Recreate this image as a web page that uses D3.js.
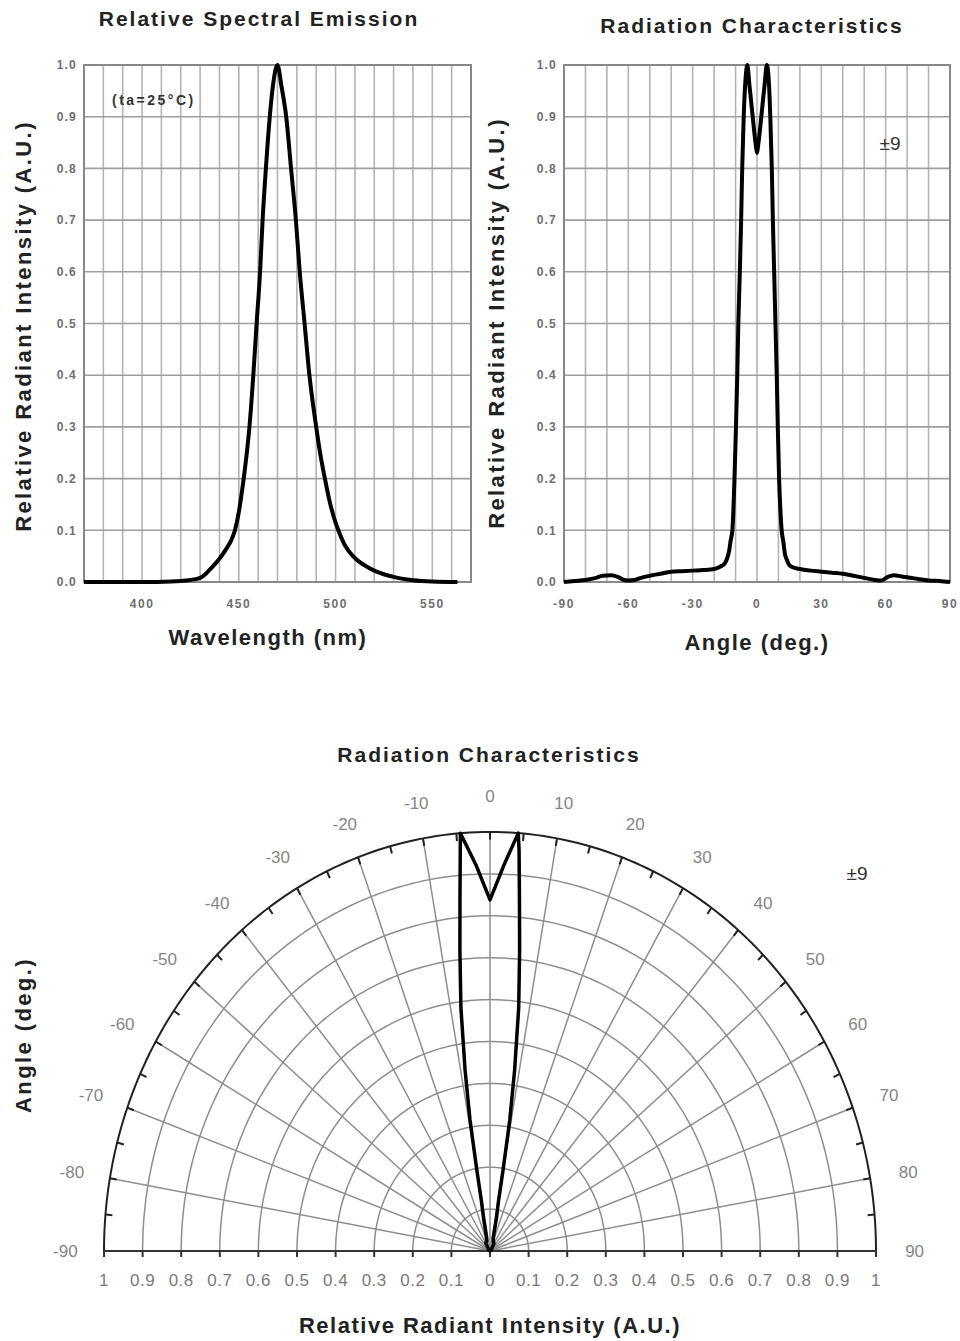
<!DOCTYPE html>
<html><head><meta charset="utf-8">
<script src="https://cdn.jsdelivr.net/npm/d3@7"></script>
<style>
body{margin:0;background:#fff}
svg{display:block}
text{font-family:"Liberation Sans",Arial,Helvetica,sans-serif}
</style></head>
<body><svg id="c" width="960" height="1341"></svg>
<script>
// ---- Data ----
const spectrumWavelength = [370,380,400,415,420,425,430,433,435,438,441,444,446,448,450,452,454,455.5,457.5,459.2,461,462.3,464,466,468,470,472,474.5,477,479.5,481.5,484,486.5,490,492,494.5,497,500,502,505,509,512,516,520,525,530,535,540,550,563];
const spectrumIntensity  = [0,0,0,0.001,0.002,0.004,0.008,0.016,0.024,0.036,0.05,0.067,0.08,0.1,0.135,0.185,0.245,0.3,0.4,0.5,0.6,0.7,0.8,0.9,0.97,1.0,0.96,0.9,0.8,0.7,0.6,0.5,0.4,0.3,0.25,0.2,0.155,0.115,0.095,0.07,0.05,0.04,0.03,0.022,0.015,0.01,0.006,0.0035,0.001,0];

// Radiation characteristics (cartesian plot)
const angleDeg = [-90,-85,-80,-75,-72,-68,-65,-62,-60,-57,-54,-50,-45,-40,-35,-30,-25,-20,-17,-15,-14,-13,-12.3,-11.5,-11,-10.5,-9.8,-9.2,-8.7,-8,-7.4,-6.9,-6.2,-5.4,-4.5,-3.5,-2,-1,-0.4,0,0.4,1,2,3.5,4.6,5.5,6.2,6.9,7.4,8,8.6,9.2,9.7,10.3,10.9,11.5,12.2,13,14,15,17,20,25,30,35,40,45,50,55,58,61,64,67,70,75,80,85,90];
const radiantIntensity = [0,0.002,0.004,0.008,0.012,0.013,0.01,0.004,0.003,0.004,0.008,0.012,0.016,0.02,0.021,0.022,0.023,0.025,0.03,0.036,0.045,0.06,0.08,0.1,0.14,0.2,0.3,0.4,0.5,0.6,0.7,0.8,0.9,0.97,1.0,0.96,0.9,0.86,0.84,0.83,0.84,0.86,0.9,0.96,1.0,0.97,0.9,0.8,0.7,0.6,0.5,0.4,0.3,0.2,0.14,0.1,0.08,0.055,0.042,0.033,0.028,0.025,0.022,0.02,0.018,0.016,0.012,0.008,0.004,0.003,0.01,0.013,0.011,0.009,0.006,0.003,0.002,0];

// Radiation characteristics (polar plot, as drawn in the lower figure)
const polarAngleDeg  = [-90,-60,-30,-20,-15,-12,-10.6,-10,-9.4,-8.5,-7.4,-6.2,-5.3,-4.6,-4.4,-2.2,0,2.2,4.2,4.5,5.2,6.1,7.3,8.4,9.3,9.9,10.5,12,15,20,30,60,90];
const polarIntensity = [0,0.003,0.022,0.025,0.036,0.08,0.12,0.2,0.317,0.437,0.585,0.722,0.842,0.96,1.0,0.92,0.838,0.92,1.0,0.96,0.842,0.722,0.585,0.437,0.317,0.2,0.12,0.08,0.033,0.025,0.02,0.003,0];

const intensityTicks = [0,0.1,0.2,0.3,0.4,0.5,0.6,0.7,0.8,0.9,1.0];
const wavelengthTicks = [400,450,500,550];
const angleTicks = [-90,-60,-30,0,30,60,90];
const polarAngleLabels = [-90,-80,-70,-60,-50,-40,-30,-20,-10,0,10,20,30,40,50,60,70,80,90];
const polarRadialTicks = [0,0.1,0.2,0.3,0.4,0.5,0.6,0.7,0.8,0.9,1];

const svg = d3.select("#c");

function cartesian(o){
  const x = d3.scaleLinear().domain(o.xDomain).range([o.x0, o.x1]);
  const y = d3.scaleLinear().domain([0,1]).range([582, 65]);
  const g = svg.append("g");
  g.selectAll(null).data(o.xGrid).join("line")
    .attr("x1", d=>x(d)).attr("x2", d=>x(d)).attr("y1", y(0)).attr("y2", y(1))
    .attr("stroke", "#b4b4b4").attr("stroke-width", 1.6);
  g.selectAll(null).data(intensityTicks).join("line")
    .attr("x1", o.x0).attr("x2", o.x1).attr("y1", d=>y(d)).attr("y2", d=>y(d))
    .attr("stroke", "#9e9e9e").attr("stroke-width", 1.6);
  g.append("rect").attr("x", o.x0).attr("y", y(1)).attr("width", o.x1-o.x0).attr("height", y(0)-y(1))
    .attr("fill", "none").attr("stroke", "#888").attr("stroke-width", 2);
  g.selectAll(null).data(intensityTicks).join("text")
    .attr("x", o.x0 - 7).attr("y", d=>y(d)).attr("dy", "0.35em")
    .attr("text-anchor", "end").attr("font-size", 12).attr("font-weight", "bold")
    .attr("letter-spacing", 1.2).attr("fill", "#6e6e6e").text(d3.format(".1f"));
  g.selectAll(null).data(o.xTicks).join("text")
    .attr("x", d=>x(d)).attr("y", 608)
    .attr("text-anchor", "middle").attr("font-size", 12).attr("font-weight", "bold")
    .attr("letter-spacing", 1.5).attr("fill", "#6e6e6e").text(d=>d);
  const line = d3.line().x((d,i)=>x(o.xs[i])).y((d,i)=>y(o.ys[i])).curve(d3.curveMonotoneX);
  g.append("path").datum(o.xs).attr("d", line).attr("fill", "none")
    .attr("stroke", "#000").attr("stroke-width", 4).attr("stroke-linejoin", "round");
  g.append("text").attr("x", o.titleX).attr("y", o.titleY).attr("text-anchor", "middle")
    .attr("font-size", 21).attr("font-weight", "bold").attr("letter-spacing", 2).attr("fill", "#222").text(o.title);
  g.append("text").attr("x", o.xTitleX).attr("y", o.xTitleY).attr("text-anchor", "middle")
    .attr("font-size", 22).attr("font-weight", "bold").attr("letter-spacing", 1.5).attr("fill", "#222").text(o.xTitle);
  g.append("text").attr("transform", `translate(${o.yTitleX},${o.yTitleY}) rotate(-90)`)
    .attr("text-anchor", "middle").attr("dy", "0.35em")
    .attr("font-size", 22).attr("font-weight", "bold").attr("letter-spacing", 2.4).attr("fill", "#222")
    .text("Relative Radiant Intensity (A.U.)");
  return {g, x, y};
}

const c1 = cartesian({
  xDomain:[370,570], x0:84, x1:471, xGrid:d3.range(380,570,10), xTicks:wavelengthTicks,
  xs:spectrumWavelength, ys:spectrumIntensity,
  title:"Relative Spectral Emission", titleX:259, titleY:26,
  xTitle:"Wavelength (nm)", xTitleX:268, xTitleY:645, yTitleX:23, yTitleY:326
});
c1.g.append("text").attr("x", 112).attr("y", 105).attr("font-size", 14).attr("font-weight", "bold")
  .attr("letter-spacing", 2.5).attr("fill", "#333").text("(ta=25°C)");

const c2 = cartesian({
  xDomain:[-90,90], x0:564, x1:950, xGrid:d3.range(-80,90,10), xTicks:angleTicks,
  xs:angleDeg, ys:radiantIntensity,
  title:"Radiation Characteristics", titleX:752, titleY:33,
  xTitle:"Angle (deg.)", xTitleX:757, xTitleY:650, yTitleX:496, yTitleY:323
});
c2.g.append("text").attr("x", 890).attr("y", 150).attr("text-anchor", "middle").attr("font-size", 19)
  .attr("fill", "#333").text("±9");

// ---- Polar chart ----
const cx = 490, cy = 1251;
const rX = d3.scaleLinear().domain([0,1]).range([0,386]);
const rY = d3.scaleLinear().domain([0,1]).range([0,419]);
const ang = d3.scaleLinear().domain([-90,90]).range([-Math.PI/2, Math.PI/2]);
const px = (a,v)=> cx + rX(v)*Math.sin(ang(a));
const py = (a,v)=> cy - rY(v)*Math.cos(ang(a));
const pg = svg.append("g");

const arcLine = v => d3.line().x(a=>px(a,v)).y(a=>py(a,v))(d3.range(-90, 90.5, 1));
pg.selectAll(null).data(polarRadialTicks.filter(v=>v>0 && v<1)).join("path")
  .attr("d", arcLine).attr("fill", "none").attr("stroke", "#8e8e8e").attr("stroke-width", 1.5);
pg.selectAll(null).data(d3.range(-80, 90, 10)).join("line")
  .attr("x1", cx).attr("y1", cy).attr("x2", a=>px(a,1)).attr("y2", a=>py(a,1))
  .attr("stroke", "#8e8e8e").attr("stroke-width", 1.5);
pg.append("path").attr("d", arcLine(1)).attr("fill", "none").attr("stroke", "#222").attr("stroke-width", 2);
pg.selectAll(null).data(d3.range(-85, 90, 5)).join("line")
  .attr("x1", a=>px(a,1)).attr("y1", a=>py(a,1)).attr("x2", a=>px(a,0.982)).attr("y2", a=>py(a,0.982))
  .attr("stroke", "#222").attr("stroke-width", 2);
pg.append("line").attr("x1", cx - rX(1)).attr("x2", cx + rX(1)).attr("y1", cy).attr("y2", cy)
  .attr("stroke", "#333").attr("stroke-width", 2.2);
const baseTicks = polarRadialTicks.map(v=>-v).concat(polarRadialTicks.slice(1));
pg.selectAll(null).data(baseTicks).join("line")
  .attr("x1", v=>cx + rX(v)).attr("x2", v=>cx + rX(v)).attr("y1", cy).attr("y2", cy + 6)
  .attr("stroke", "#333").attr("stroke-width", 2);
pg.selectAll(null).data(baseTicks).join("text")
  .attr("x", v=>cx + rX(v)).attr("y", 1286).attr("text-anchor", "middle")
  .attr("font-size", 17).attr("letter-spacing", 0.5).attr("fill", "#7a7a7a")
  .text(v=>{const a=Math.abs(v); return a===0?"0":a===1?"1":d3.format(".1f")(a);});
pg.selectAll(null).data(polarAngleLabels).join("text")
  .attr("x", a=>cx + rX(1.1)*Math.sin(ang(a))).attr("y", a=>cy - rY(1.085)*Math.cos(ang(a)))
  .attr("dy", "0.35em").attr("text-anchor", "middle")
  .attr("font-size", 17).attr("fill", "#858585").text(d=>d);
const polarLine = d3.line()
  .x((d,i)=>px(polarAngleDeg[i], polarIntensity[i]))
  .y((d,i)=>py(polarAngleDeg[i], polarIntensity[i]));
pg.append("path").datum(polarAngleDeg).attr("d", polarLine).attr("fill", "none")
  .attr("stroke", "#000").attr("stroke-width", 3.5).attr("stroke-linejoin", "round");
pg.append("text").attr("x", 489).attr("y", 762).attr("text-anchor", "middle")
  .attr("font-size", 21).attr("font-weight", "bold").attr("letter-spacing", 2).attr("fill", "#222").text("Radiation Characteristics");
pg.append("text").attr("x", 490).attr("y", 1333).attr("text-anchor", "middle")
  .attr("font-size", 22).attr("font-weight", "bold").attr("letter-spacing", 1.5).attr("fill", "#222").text("Relative Radiant Intensity (A.U.)");
pg.append("text").attr("transform", "translate(23,1035) rotate(-90)").attr("text-anchor", "middle").attr("dy", "0.35em")
  .attr("font-size", 22).attr("font-weight", "bold").attr("letter-spacing", 2.4).attr("fill", "#222").text("Angle (deg.)");
pg.append("text").attr("x", 857).attr("y", 880).attr("text-anchor", "middle").attr("font-size", 19)
  .attr("fill", "#333").text("±9");
</script></body></html>
